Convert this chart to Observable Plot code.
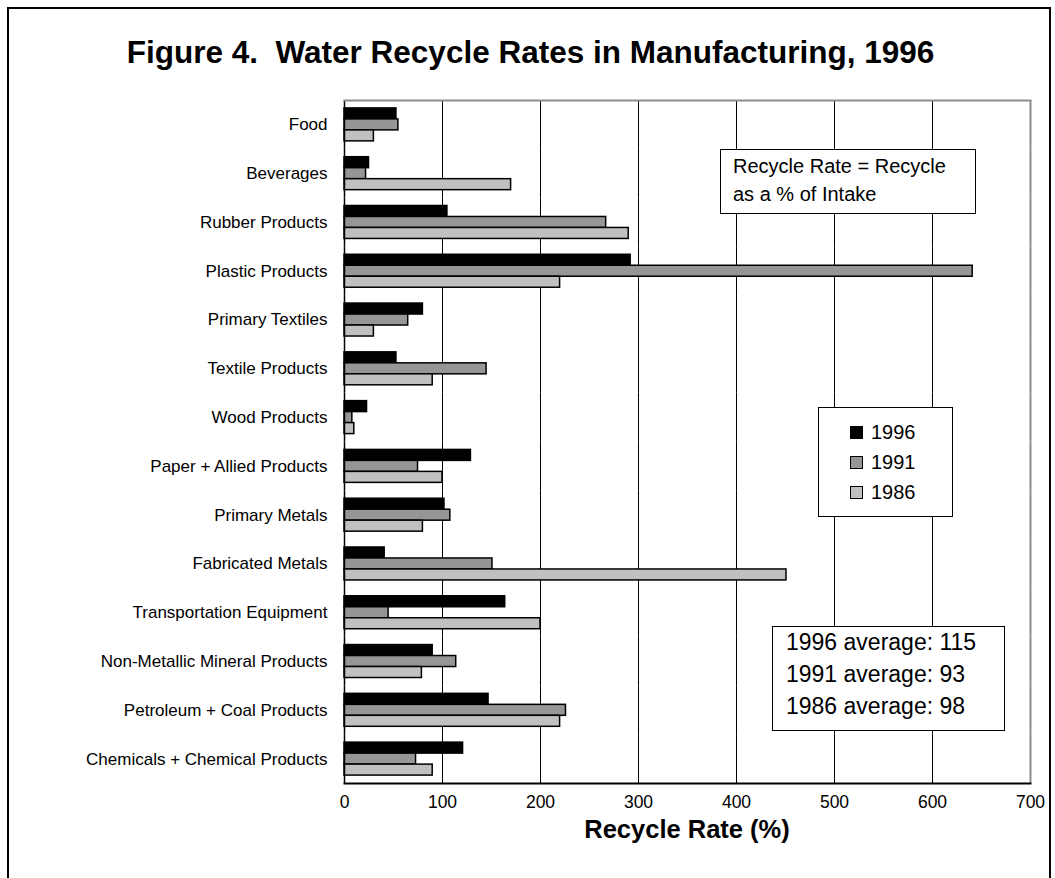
<!DOCTYPE html>
<html>
<head>
<meta charset="utf-8">
<script src="https://cdn.jsdelivr.net/npm/d3@7"></script>
<script src="https://cdn.jsdelivr.net/npm/@observablehq/plot@0.6"></script>
<style>
  html, body { margin: 0; padding: 0; background: #fff; }
  body { font-family: Arial, "Liberation Sans", sans-serif; color: #000; }
  #page { position: relative; width: 1055px; height: 878px; overflow: hidden; }
  #border { position: absolute; left: 7px; top: 7px; width: 1044px; height: 900px; border: 2px solid #000; box-sizing: border-box; pointer-events: none; }
  #title { height: 80px; box-sizing: border-box; padding-top: 36px; padding-left: 6px; text-align: center; font-weight: bold; font-size: 31.5px; line-height: 32px; white-space: pre; }
  #chart { height: 798px; }
  #chart svg { display: block; }
  .box { position: absolute; background: #fff; border: 1.5px solid #000; box-sizing: border-box; }
  .line { position: absolute; white-space: nowrap; }
  .sw { position: absolute; width: 13px; height: 13px; border: 1.5px solid #000; box-sizing: border-box; }
  #xlabel { position: absolute; left: 344px; width: 686px; top: 815px; text-align: center; font-weight: bold; font-size: 25.5px; }
</style>
</head>
<body>
<div id="page">
  <div id="title"></div>
  <div id="chart"></div>
  <div id="xlabel"></div>
  <div id="overlays"></div>
  <div id="border"></div>
</div>
<script>
const titleText = "Figure 4.  Water Recycle Rates in Manufacturing, 1996";
const xLabel = "Recycle Rate (%)";
const categories = [
  "Food", "Beverages", "Rubber Products", "Plastic Products", "Primary Textiles",
  "Textile Products", "Wood Products", "Paper + Allied Products", "Primary Metals",
  "Fabricated Metals", "Transportation Equipment", "Non-Metallic Mineral Products",
  "Petroleum + Coal Products", "Chemicals + Chemical Products"
];
const years = ["1996", "1991", "1986"];
const values1996 = [53, 25, 105, 292, 80, 53, 23, 129, 102, 41, 164, 90, 147, 121];
const values1991 = [55, 22, 267, 641, 65, 145, 8, 75, 108, 151, 45, 114, 226, 73];
const values1986 = [30, 170, 290, 220, 30, 90, 10, 100, 80, 451, 200, 79, 220, 90];
const xTicks = [0, 100, 200, 300, 400, 500, 600, 700];
const yearColors = ["#000000", "#969696", "#c0c0c0"];
const noteLines = ["Recycle Rate = Recycle", "as a % of Intake"];
const averageLines = ["1996 average: 115", "1991 average: 93", "1986 average: 98"];

const series = [values1996, values1991, values1986];
const data = [];
categories.forEach((c, i) => years.forEach((y, j) => data.push({category: c, year: y, value: series[j][i]})));

document.getElementById("title").textContent = titleText;
document.getElementById("xlabel").textContent = xLabel;

const chart = Plot.plot({
  width: 1055,
  height: 798,
  marginTop: 20,
  marginBottom: 95,
  marginLeft: 344,
  marginRight: 25,
  facetMarginTop: 0,
  facetMarginBottom: 0,
  facetMarginLeft: 0,
  facetMarginRight: 0,
  style: {fontFamily: "Arial, 'Liberation Sans', sans-serif", fontSize: "17px", color: "#000", background: "transparent", overflow: "visible"},
  x: {domain: [0, 700], ticks: xTicks},
  fy: {domain: categories, padding: 0, round: false},
  y: {domain: years, paddingInner: 0, paddingOuter: 0.72, round: false, axis: null},
  color: {domain: years, range: yearColors},
  marks: [
    Plot.ruleX(xTicks.slice(1, -1), {stroke: "#000", strokeWidth: 1}),
    Plot.barX(data, {fy: "category", y: "year", x: "value", fill: "year", stroke: "#000", strokeWidth: 1.5}),
    Plot.ruleX([700], {stroke: "#8c8c8c", strokeWidth: 2}),
    Plot.ruleX([0], {stroke: "#000", strokeWidth: 1.5}),
    Plot.frame({anchor: "top", facet: "super", stroke: "#8c8c8c", strokeWidth: 2}),
    Plot.frame({anchor: "bottom", facet: "super", stroke: "#000", strokeWidth: 2}),
    Plot.axisFy({anchor: "left", tickSize: 0, tickPadding: 17, fontSize: 17, label: null}),
    Plot.axisX({anchor: "bottom", ticks: xTicks, tickSize: 0, tickPadding: 12, fontSize: 17.5, label: null})
  ]
});
document.getElementById("chart").appendChild(chart);

// Overlay boxes (annotation text and legend)
const ov = document.getElementById("overlays");
function box(left, top, w, h) {
  const b = document.createElement("div");
  b.className = "box";
  Object.assign(b.style, {left: left + "px", top: top + "px", width: w + "px", height: h + "px"});
  ov.appendChild(b);
  return b;
}
function line(parent, text, left, top, size) {
  const t = document.createElement("div");
  t.className = "line";
  t.textContent = text;
  Object.assign(t.style, {left: left + "px", top: top + "px", fontSize: size + "px", lineHeight: size + "px"});
  parent.appendChild(t);
}
const note = box(720, 149, 256, 65);
noteLines.forEach((s, i) => line(note, s, 12, 6 + i * 28, 20));

const leg = box(818, 407, 135, 110);
years.forEach((y, i) => {
  const sw = document.createElement("div");
  sw.className = "sw";
  Object.assign(sw.style, {left: "31px", top: (18 + i * 30) + "px", background: yearColors[i]});
  leg.appendChild(sw);
  line(leg, y, 52, 14 + i * 30, 20);
});

const avg = box(772, 626, 233, 105);
averageLines.forEach((s, i) => line(avg, s, 13, 4 + i * 32, 23));
</script>
</body>
</html>
